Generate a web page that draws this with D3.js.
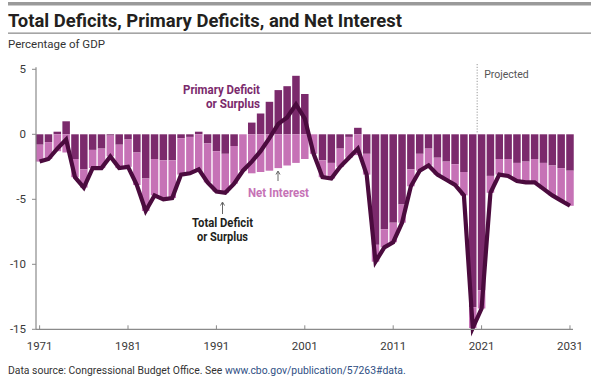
<!DOCTYPE html>
<html><head><meta charset="utf-8">
<script src="https://cdn.jsdelivr.net/npm/d3@7"></script>
<style>
html,body{margin:0;padding:0;background:#fff;}
svg{display:block;font-family:Roboto,"Noto Sans",sans-serif;}
</style></head>
<body>
<svg id="c" width="591" height="388"></svg>
<script>
const years = [1971,1972,1973,1974,1975,1976,1977,1978,1979,1980,
1981,1982,1983,1984,1985,1986,1987,1988,1989,1990,
1991,1992,1993,1994,1995,1996,1997,1998,1999,2000,
2001,2002,2003,2004,2005,2006,2007,2008,2009,2010,
2011,2012,2013,2014,2015,2016,2017,2018,2019,2020,
2021,2022,2023,2024,2025,2026,2027,2028,2029,2030,2031];
const primaryDeficit = [-0.8,-0.6,0.2,1.0,-1.9,-2.7,-1.2,-1.1,-0.1,-0.8,
-0.4,-1.4,-3.4,-1.9,-2.0,-2.0,-0.3,-0.2,0.2,-0.7,
-1.3,-1.5,-0.9,0.0,0.9,1.6,2.5,3.4,3.7,4.5,
3.1,0.0,-2.0,-2.2,-1.1,-0.2,0.5,-1.5,-8.5,-7.3,
-6.8,-5.4,-2.7,-1.5,-1.1,-1.8,-2.1,-2.3,-2.9,-13.3,
-12.0,-3.2,-1.9,-1.9,-2.2,-2.1,-1.9,-2.2,-2.4,-2.6,-2.8];
const netInterest = [1.3,1.3,1.3,1.4,1.4,1.4,1.4,1.5,1.6,1.8,
2.1,2.5,2.5,2.8,3.0,2.9,2.8,2.8,2.9,3.0,
3.1,3.0,2.9,2.8,3.0,2.9,2.8,2.6,2.4,2.2,
1.9,1.5,1.3,1.2,1.4,1.6,1.6,1.6,1.3,1.4,
1.5,1.4,1.3,1.3,1.3,1.3,1.4,1.6,1.8,1.6,
1.4,1.3,1.2,1.3,1.4,1.6,1.8,2.0,2.3,2.5,2.7];
const totalDeficit = [-2.1,-1.9,-1.1,-0.4,-3.3,-4.1,-2.6,-2.6,-1.7,-2.6,
-2.5,-3.9,-5.9,-4.7,-5.0,-4.9,-3.1,-3.0,-2.7,-3.7,
-4.4,-4.5,-3.8,-2.8,-2.1,-1.3,-0.3,0.8,1.3,2.3,
1.2,-1.5,-3.3,-3.4,-2.5,-1.8,-1.1,-3.1,-9.8,-8.7,
-8.3,-6.8,-4.0,-2.8,-2.4,-3.1,-3.5,-3.9,-4.7,-14.9,
-13.4,-4.5,-3.1,-3.2,-3.6,-3.7,-3.7,-4.2,-4.7,-5.1,-5.5];
const yTicks = [5,0,-5,-10,-15];
const xTicks = [1971,1981,1991,2001,2011,2021,2031];
const projectedFrom = 2021;

const C = {dark:"#7b2a6c", pink:"#c672b6", line:"#4b0b3e", axis:"#8a8a8a", text:"#3a3a3a"};
const svg = d3.select("#c");

// header
svg.append("rect").attr("x",8).attr("y",2).attr("width",583).attr("height",3.5).attr("fill","#9a9a9a");
svg.append("text").attr("x",8).attr("y",27).attr("font-size",18.5).attr("font-weight",700)
  .attr("fill","#231f20").attr("textLength",394).attr("lengthAdjust","spacingAndGlyphs")
  .text("Total Deficits, Primary Deficits, and Net Interest");
svg.append("rect").attr("x",8).attr("y",32.5).attr("width",583).attr("height",1.3).attr("fill","#8f8f8f");
svg.append("text").attr("x",8).attr("y",48).attr("font-size",11.5).attr("fill","#333")
  .text("Percentage of GDP");

const x = d3.scaleBand().domain(years).range([35.2,574.4]).paddingInner(0.15).paddingOuter(0.075);
const y = d3.scaleLinear().domain([-15,5]).range([329.3,69.3]);

// bars
const g = svg.append("g");
years.forEach((yr,i)=>{
  const p = primaryDeficit[i], n = netInterest[i];
  const top = p<0 ? p : 0;
  g.append("rect").attr("x",x(yr)).attr("width",x.bandwidth())
    .attr("y",y(Math.max(0,p))).attr("height",Math.abs(y(p)-y(0))).attr("fill",C.dark);
  g.append("rect").attr("x",x(yr)).attr("width",x.bandwidth())
    .attr("y",y(top)).attr("height",y(top-n)-y(top)).attr("fill",C.pink);
});

// projected
const px = (x(projectedFrom-1)+x.bandwidth()+x(projectedFrom))/2;
svg.append("line").attr("x1",px).attr("x2",px).attr("y1",64).attr("y2",y(0))
  .attr("stroke","#999").attr("stroke-width",1).attr("stroke-dasharray","1.2,1.6");
svg.append("text").attr("x",px+7).attr("y",78).attr("font-size",10.5).attr("fill","#555").text("Projected");

// total line
const line = d3.line().x((d,i)=>x(years[i])+x.bandwidth()/2).y(d=>y(d));
svg.append("path").datum(totalDeficit).attr("d",line).attr("fill","none")
  .attr("stroke",C.line).attr("stroke-width",4.2).attr("stroke-linejoin","miter").attr("stroke-miterlimit",6);

// axes
svg.append("line").attr("x1",36).attr("x2",36).attr("y1",y(5)-2).attr("y2",y(-15)).attr("stroke",C.axis).attr("stroke-width",1.2);
svg.append("line").attr("x1",36).attr("x2",573).attr("y1",y(-15)).attr("y2",y(-15)).attr("stroke",C.axis).attr("stroke-width",1.2);
yTicks.forEach(t=>{
  svg.append("line").attr("x1",32).attr("x2",36).attr("y1",y(t)).attr("y2",y(t)).attr("stroke",C.axis);
  svg.append("text").attr("x",26).attr("y",y(t)+4).attr("text-anchor","end").attr("font-size",11.5)
    .attr("fill",C.text).text(String(t).replace("−","-"));
});
xTicks.forEach(t=>{
  const cx = x(t)+x.bandwidth()/2;
  svg.append("line").attr("x1",cx).attr("x2",cx).attr("y1",y(-15)-4).attr("y2",y(-15)).attr("stroke",C.axis);
  svg.append("text").attr("x",cx).attr("y",350).attr("text-anchor","middle").attr("font-size",11.5)
    .attr("fill",C.text).text(t);
});

// annotations
const ann = svg.append("g").attr("font-weight",700).attr("font-size",12.5);
ann.append("text").attr("x",260).attr("y",93.5).attr("text-anchor","end").attr("fill",C.dark)
  .attr("textLength",77).attr("lengthAdjust","spacingAndGlyphs").text("Primary Deficit");
ann.append("text").attr("x",260).attr("y",107.5).attr("text-anchor","end").attr("fill",C.dark)
  .attr("textLength",54).attr("lengthAdjust","spacingAndGlyphs").text("or Surplus");
ann.append("text").attr("x",248).attr("y",196.5).attr("fill",C.pink)
  .attr("textLength",61).attr("lengthAdjust","spacingAndGlyphs").text("Net Interest");
ann.append("text").attr("x",222.5).attr("y",227).attr("text-anchor","middle").attr("fill","#231f20")
  .attr("textLength",61).attr("lengthAdjust","spacingAndGlyphs").text("Total Deficit");
ann.append("text").attr("x",222.5).attr("y",241).attr("text-anchor","middle").attr("fill","#231f20")
  .attr("textLength",51).attr("lengthAdjust","spacingAndGlyphs").text("or Surplus");
function arrow(ax, y1, y2){
  svg.append("line").attr("x1",ax).attr("x2",ax).attr("y1",y1+1).attr("y2",y2).attr("stroke","#555").attr("stroke-width",0.9);
  svg.append("path").attr("d",`M${ax-2},${y1+3.5}L${ax},${y1}L${ax+2},${y1+3.5}`).attr("fill","none").attr("stroke","#555").attr("stroke-width",0.9);
}
arrow(278,171,181);
arrow(222.5,202,214);

// footer
const f = svg.append("text").attr("x",8).attr("y",374).attr("font-size",10.4).attr("fill","#333");
f.append("tspan").text("Data source: Congressional Budget Office. See ");
f.append("tspan").attr("fill","#2f4f84").text("www.cbo.gov/publication/57263#data.");
</script>
</body></html>
